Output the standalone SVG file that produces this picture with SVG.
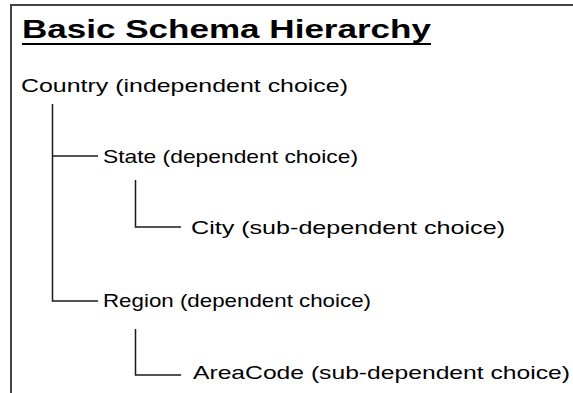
<svg xmlns="http://www.w3.org/2000/svg" width="573" height="393" viewBox="0 0 573 393">
<style>
.t{font-family:"Liberation Sans",Arial,sans-serif;font-size:19px;fill:#000}
.title{font-family:"Liberation Sans",Arial,sans-serif;font-size:26px;font-weight:bold;fill:#000}
.c{stroke:#1a1a1a;stroke-width:1.5;fill:none}
.frame{stroke:#444;stroke-width:2;fill:none}
</style>
<rect width="573" height="393" fill="#fff"/>
<path class="frame" d="M11,393 V5 H573"/>
<g id="title">
<text class="title" x="22" y="38" textLength="409" lengthAdjust="spacingAndGlyphs">Basic Schema Hierarchy</text>
<line x1="22" y1="44" x2="431" y2="44" stroke="#000" stroke-width="2"/>
</g>
<g id="connectors">
<path class="c" d="M52.5,104 V301 H98"/>
<path class="c" d="M52.5,156 H98"/>
<path class="c" d="M135.5,180 V227 H181"/>
<path class="c" d="M135.5,329 V375 H181"/>
</g>
<g id="country"><text class="t" x="21" y="92" textLength="327" lengthAdjust="spacingAndGlyphs">Country (independent choice)</text></g>
<g id="state"><text class="t" x="103" y="163" textLength="255" lengthAdjust="spacingAndGlyphs">State (dependent choice)</text></g>
<g id="city"><text class="t" x="191" y="234" textLength="314" lengthAdjust="spacingAndGlyphs">City (sub-dependent choice)</text></g>
<g id="region"><text class="t" x="103" y="307" textLength="268" lengthAdjust="spacingAndGlyphs">Region (dependent choice)</text></g>
<g id="areacode"><text class="t" x="193" y="379" textLength="377" lengthAdjust="spacingAndGlyphs">AreaCode (sub-dependent choice)</text></g>
</svg>
